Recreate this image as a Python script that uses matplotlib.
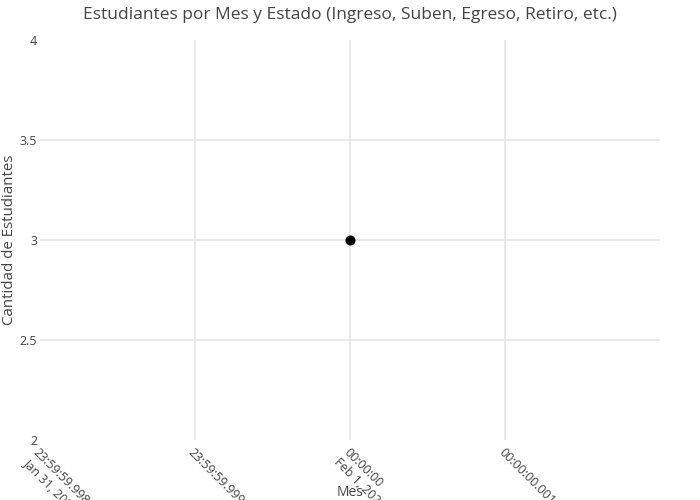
import matplotlib
matplotlib.use("Agg")
import matplotlib.pyplot as plt
import pandas as pd

# Datos: un solo punto registrado
meses = ["2024-02-01 00:00:00"]
cantidades = [3]

# Etiquetas del eje X (plotly zoom en milisegundos alrededor del 1 feb)
tick_offsets_ms = [-2, -1, 0, 1]
tick_labels = ["23:59:59.998\nJan 31, 2024", "23:59:59.999",
               "00:00:00\nFeb 1, 2024", "00:00:00.001"]
y_ticks = [2, 2.5, 3, 3.5, 4]
y_tick_labels = ["2", "2.5", "3", "3.5", "4"]

TEXT_COLOR = "#444444"
GRID_COLOR = "#e6e6e6"

plt.rcParams["font.family"] = ["Open Sans", "DejaVu Sans"]

ref = pd.Timestamp("2024-02-01 00:00:00")
x_ms = [(pd.Timestamp(m) - ref) / pd.Timedelta(milliseconds=1) for m in meses]

fig = plt.figure(figsize=(7, 5), dpi=100)
ax = fig.add_axes([40 / 700, 60 / 500, 620 / 700, 400 / 500])

ax.plot(x_ms, cantidades, "o", color="black", markersize=6.2, zorder=3)

ax.set_xlim(-2, 2)
ax.set_ylim(2, 4)
ax.set_xticks(tick_offsets_ms)
ax.set_xticklabels(tick_labels, rotation=-45, ha="left", va="top",
                   rotation_mode="anchor", fontsize=9, color=TEXT_COLOR,
                   linespacing=1.1)
ax.set_yticks(y_ticks)
ax.set_yticklabels(y_tick_labels, fontsize=9, color=TEXT_COLOR)

for yv in [2.5, 3, 3.5]:
    ax.axhline(yv, color=GRID_COLOR, linewidth=1.2, zorder=1)
for xv in [-1, 0, 1]:
    ax.axvline(xv, color=GRID_COLOR, linewidth=1.2, zorder=1)

for s in ax.spines.values():
    s.set_visible(False)
ax.tick_params(axis="both", length=0)
ax.tick_params(axis="y", pad=2)
ax.tick_params(axis="x", pad=4)

fig.text(350 / 700, 1 - 15 / 500,
         "Estudiantes por Mes y Estado (Ingreso, Suben, Egreso, Retiro, etc.)",
         ha="center", va="center", fontsize=12.5, color=TEXT_COLOR)
fig.text(10 / 700, 1 - 240 / 500, "Cantidad de Estudiantes", rotation=90,
         ha="center", va="center", fontsize=10.8, color=TEXT_COLOR)
fig.text(350 / 700, 1 - 492 / 500, "Mes", ha="center", va="center",
         fontsize=10, color=TEXT_COLOR)

fig.savefig("out.png", dpi=100)
